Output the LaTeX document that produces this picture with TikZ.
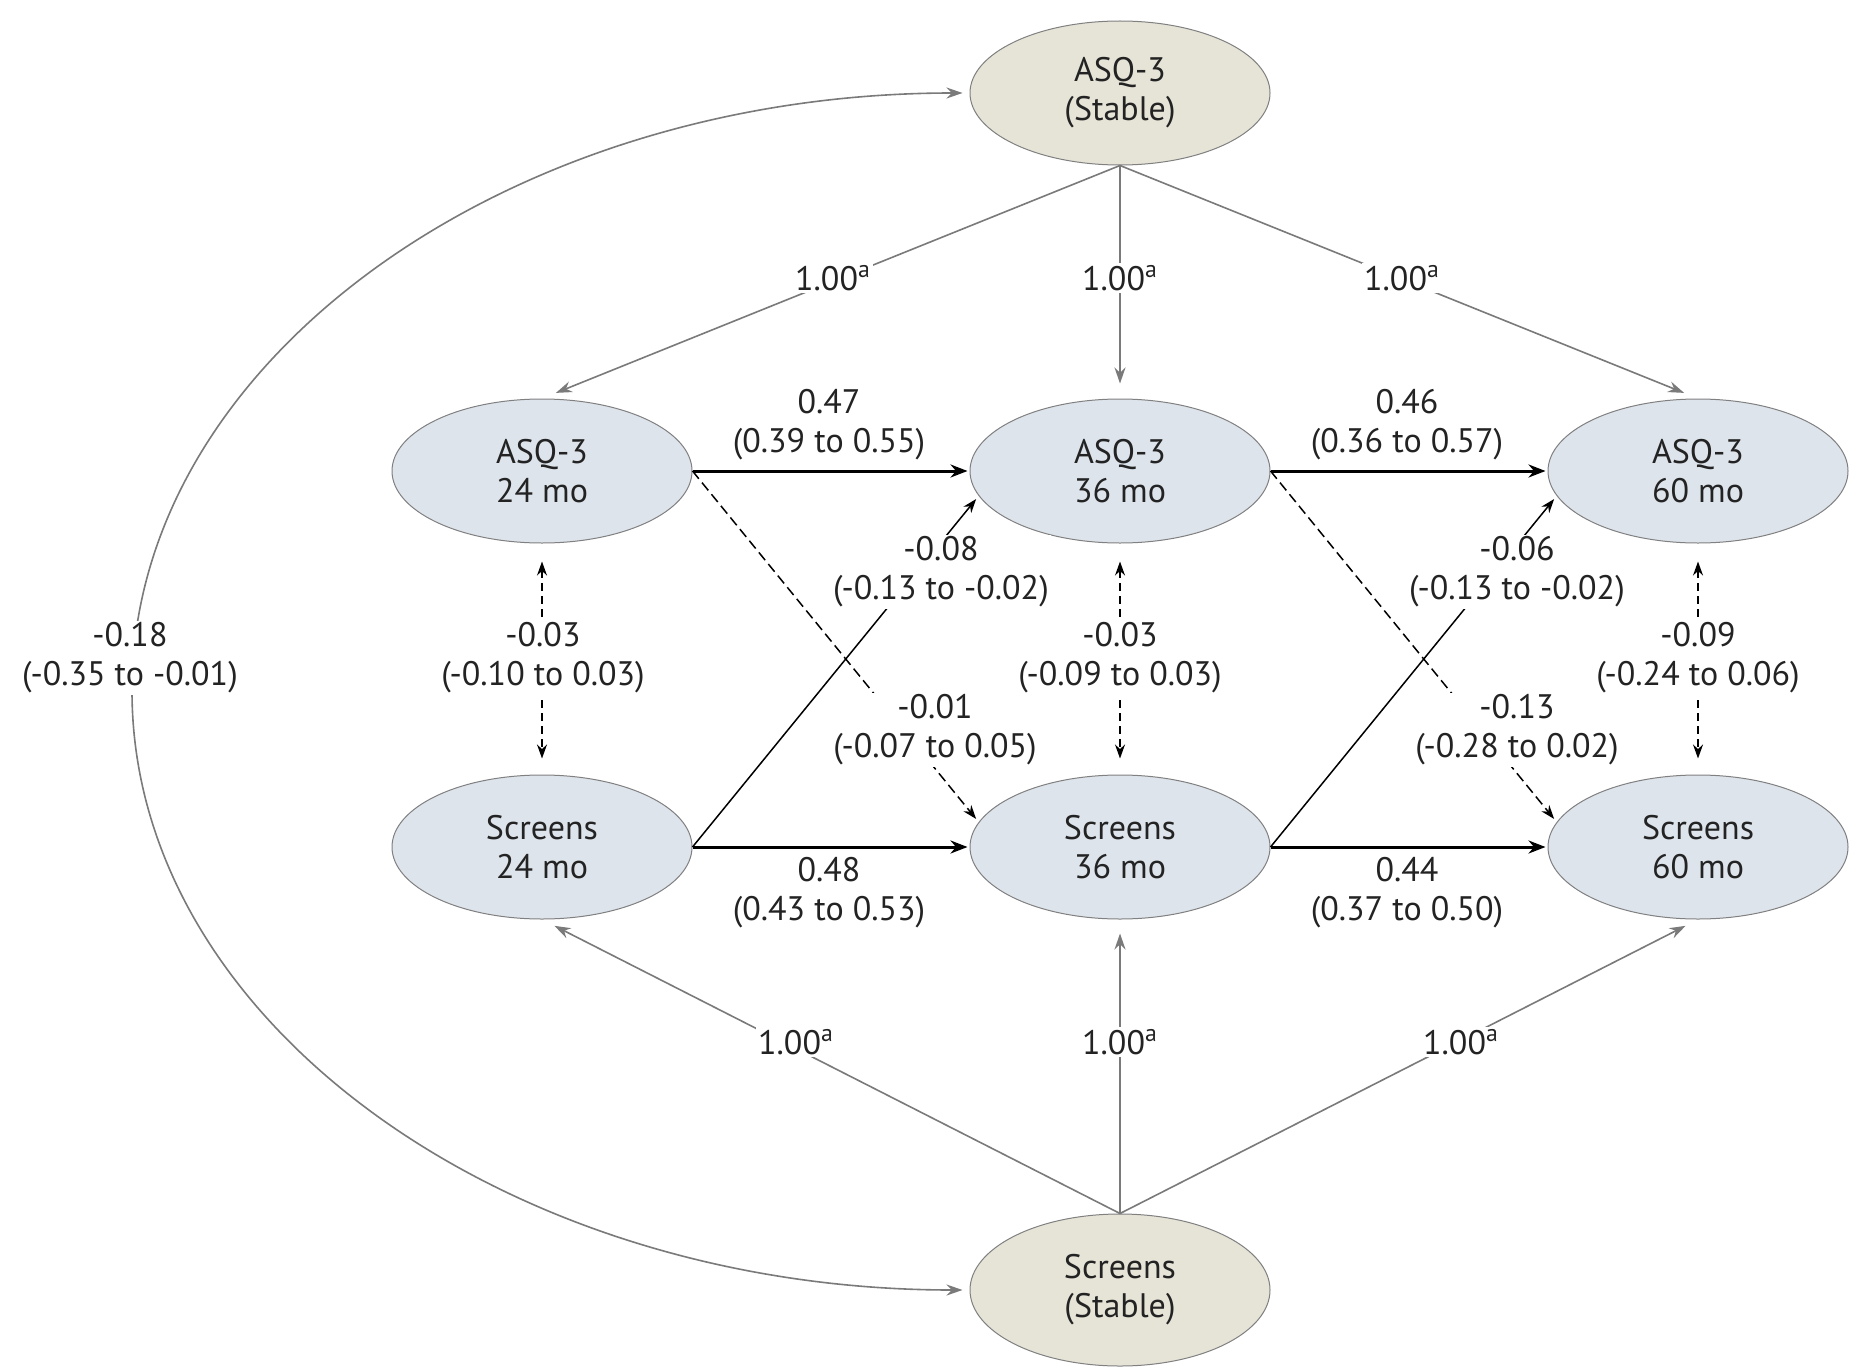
\documentclass[tikz,border=0pt]{standalone}
\usepackage{fontspec}
\setmainfont{PT Sans}
\usetikzlibrary{arrows.meta,shapes.geometric}
\definecolor{bluefill}{RGB}{221,228,236}
\definecolor{beigefill}{RGB}{230,227,215}
\definecolor{edgegrey}{RGB}{128,128,128}
\definecolor{linegrey}{RGB}{122,122,122}
\definecolor{txt}{RGB}{35,35,35}
\begin{document}
\begin{tikzpicture}[x=0.5pt,y=-0.5pt,
  font=\fontsize{17}{19.5}\selectfont, text=txt,
  every node/.style={align=center},
  oval/.style={ellipse, draw=edgegrey, line width=0.5pt, minimum width=150pt, minimum height=72pt, inner sep=0pt, fill=bluefill},
  stableoval/.style={oval, fill=beigefill},
  greyarr/.style={draw=linegrey, line width=0.8pt, -{Stealth[length=8pt,width=5.5pt]}},
  greydbl/.style={draw=linegrey, line width=0.8pt, {Stealth[length=8pt,width=5.5pt]}-{Stealth[length=8pt,width=5.5pt]}},
  thickarr/.style={line width=1.5pt, -{Stealth[length=8.5pt,width=6.5pt]}},
  thinarr/.style={line width=0.75pt, -{Stealth[length=7pt,width=5pt]}},
  dasharr/.style={thinarr, dash pattern=on 5pt off 2.5pt},
  dashdbl/.style={line width=0.7pt, dash pattern=on 4pt off 2.5pt, {Stealth[length=7pt,width=5pt]}-{Stealth[length=7pt,width=5pt]}},
  lbl/.style={fill=white, inner sep=1pt},
]
\useasboundingbox (0,0) rectangle (1852,1370);
\fill[white] (0,0) rectangle (1852,1370);

% nodes
\node[stableoval] (aS) at (1120,93) {ASQ-3\\(Stable)};
\node[oval] (a24) at (542,471) {ASQ-3\\24 mo};
\node[oval] (a36) at (1120,471) {ASQ-3\\36 mo};
\node[oval] (a60) at (1698,471) {ASQ-3\\60 mo};
\node[oval] (s24) at (542,847) {Screens\\24 mo};
\node[oval] (s36) at (1120,847) {Screens\\36 mo};
\node[oval] (s60) at (1698,847) {Screens\\60 mo};
\node[stableoval, minimum height=76pt] (sS) at (1120,1290) {Screens\\(Stable)};

% stable loadings
\draw[greyarr, shorten >=7.5pt] (aS.south) -- (a24.north);
\draw[greyarr, shorten >=7.5pt] (aS.south) -- (a36.north);
\draw[greyarr, shorten >=7.5pt] (aS.south) -- (a60.north);
\draw[greyarr, shorten >=7pt] (sS.north) -- (s24.south);
\draw[greyarr, shorten >=7pt] (sS.north) -- (s36.south);
\draw[greyarr, shorten >=7pt] (sS.north) -- (s60.south);
\node[lbl] (l1) at (833,278) {1.00\textsuperscript{a}};
\node[lbl] (l2) at (1120,278) {1.00\textsuperscript{a}};
\node[lbl] (l3) at (1402,278) {1.00\textsuperscript{a}};
\node[lbl] (l4) at (796,1042) {1.00\textsuperscript{a}};
\node[lbl] (l5) at (1120,1042) {1.00\textsuperscript{a}};
\node[lbl] (l6) at (1461,1042) {1.00\textsuperscript{a}};

% stable covariance
\draw[greydbl, shorten <=3.5pt, shorten >=3.5pt] (aS.west) .. controls (507,93) and (132,361) .. (132,691) .. controls (132,1022) and (507,1290) .. (sS.west);
\node[lbl] (l18) at (130,658) {-0.18\\(-0.35 to -0.01)};

% autoregressive
\draw[thickarr, shorten >=1pt] (a24.east) -- (a36.west);
\draw[thickarr, shorten >=1pt] (a36.east) -- (a60.west);
\draw[thickarr, shorten >=1pt] (s24.east) -- (s36.west);
\draw[thickarr, shorten >=1pt] (s36.east) -- (s60.west);
\node (l47) at (829,425) {0.47\\(0.39 to 0.55)};
\node (l46) at (1407,425) {0.46\\(0.36 to 0.57)};
\node (l48) at (829,893) {0.48\\(0.43 to 0.53)};
\node (l44) at (1407,893) {0.44\\(0.37 to 0.50)};

% cross-lagged
\draw[thinarr, shorten >=2pt] (s24.east) -- (a36.190);
\draw[dasharr, shorten >=2pt] (a24.east) -- (s36.170);
\draw[thinarr, shorten >=2pt] (s36.east) -- (a60.190);
\draw[dasharr, shorten >=2pt] (a36.east) -- (s60.170);
\node[lbl] (c1) at (941,572) {-0.08\\(-0.13 to -0.02)};
\node[lbl] (c2) at (935,730) {-0.01\\(-0.07 to 0.05)};
\node[lbl] (c3) at (1517,572) {-0.06\\(-0.13 to -0.02)};
\node[lbl] (c4) at (1517,730) {-0.13\\(-0.28 to 0.02)};

% within-time covariances
\draw[dashdbl, shorten <=9pt, shorten >=8pt] (a24.south) -- (s24.north);
\draw[dashdbl, shorten <=9pt, shorten >=8pt] (a36.south) -- (s36.north);
\draw[dashdbl, shorten <=9pt, shorten >=8pt] (a60.south) -- (s60.north);
\node[lbl] (v1) at (543,658) {-0.03\\(-0.10 to 0.03)};
\node[lbl] (v2) at (1120,658) {-0.03\\(-0.09 to 0.03)};
\node[lbl] (v3) at (1698,658) {-0.09\\(-0.24 to 0.06)};
\end{tikzpicture}
\end{document}
